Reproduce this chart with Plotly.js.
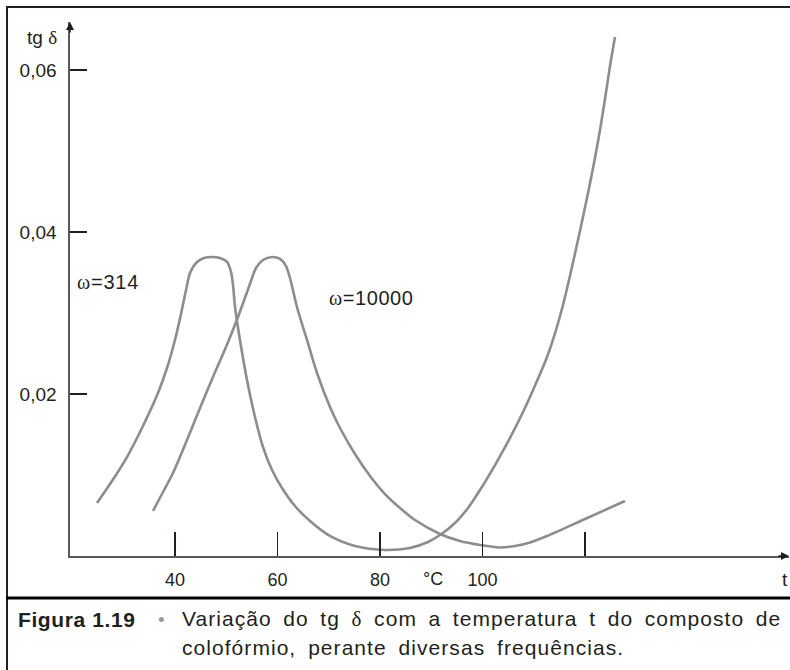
<!DOCTYPE html>
<html>
<head>
<meta charset="utf-8">
<script src="https://cdn.plot.ly/plotly-3.0.1.min.js"></script>
<style>
html,body{margin:0;padding:0;background:#fff;}
#chart{width:790px;height:670px;}
</style>
</head>
<body>
<div id="chart"></div>
<script>
// Temperature (°C) and tg δ values
const tempW314 = [24.78, 27.71, 30.63, 33.56, 36.68, 38.44, 40.00, 41.17, 42.15, 42.93, 44.10, 45.66, 47.22, 48.78, 50.15, 50.93, 51.32, 51.71, 52.68, 54.05, 55.61, 57.17, 58.93, 60.88, 63.41, 66.34, 70.24, 75.12, 80.98, 85.85, 89.37, 91.71, 94.63, 97.17, 99.51, 102.44, 105.37, 108.10, 110.63, 112.59, 114.34, 115.71, 116.88, 118.63, 120.39, 121.76, 122.93, 123.90, 124.88, 125.85];
const tgW314 = [0.00654, 0.00926, 0.01222, 0.01580, 0.02012, 0.02321, 0.02667, 0.02988, 0.03284, 0.03494, 0.03617, 0.03679, 0.03691, 0.03679, 0.03630, 0.03506, 0.03346, 0.03074, 0.02667, 0.02173, 0.01716, 0.01346, 0.01062, 0.00840, 0.00617, 0.00432, 0.00247, 0.00123, 0.00074, 0.00099, 0.00173, 0.00259, 0.00407, 0.00593, 0.00815, 0.01123, 0.01457, 0.01802, 0.02160, 0.02457, 0.02790, 0.03099, 0.03407, 0.03901, 0.04420, 0.04852, 0.05259, 0.05642, 0.06049, 0.06407];

const tempW10000 = [35.71, 37.66, 39.61, 42.34, 44.88, 47.41, 49.95, 52.29, 53.85, 54.83, 55.80, 57.17, 58.93, 60.49, 61.66, 62.44, 63.80, 65.76, 67.71, 70.24, 72.20, 75.12, 78.05, 80.98, 83.90, 86.83, 91.71, 95.61, 99.51, 103.41, 106.34, 109.27, 112.59, 120.00, 127.80];
const tgW10000 = [0.00556, 0.00790, 0.01025, 0.01432, 0.01827, 0.02210, 0.02580, 0.02951, 0.03222, 0.03395, 0.03556, 0.03654, 0.03691, 0.03667, 0.03580, 0.03432, 0.03074, 0.02667, 0.02259, 0.01840, 0.01580, 0.01259, 0.00988, 0.00765, 0.00593, 0.00444, 0.00272, 0.00185, 0.00136, 0.00105, 0.00123, 0.00167, 0.00247, 0.00457, 0.00679];

const xTickVals = [40, 60, 80, 100, 120];
const xTickText = ['40', '60', '80', '100', ''];
const yTickVals = [0.02, 0.04, 0.06];
const yTickText = ['0,02', '0,04', '0,06'];

const W = 790, H = 670;
const M = {l: 70, r: 1, t: 22, b: 114};
const plotW = W - M.l - M.r, plotH = H - M.t - M.b;
const px = x => (x - M.l) / plotW;
const py = y => (H - M.b - y) / plotH;

const curveColor = '#8d8d8f';
const ink = '#231f20';
const sans = 'Liberation Sans, Arial, Helvetica, sans-serif';
const serifSpan = s => '<span style="font-family:Liberation Serif">' + s + '</span>';

const traces = [
  {x: tempW314, y: tgW314, mode: 'lines', name: 'ω=314',
   line: {color: curveColor, width: 2.6, shape: 'spline', smoothing: 0.8}, hoverinfo: 'skip'},
  {x: tempW10000, y: tgW10000, mode: 'lines', name: 'ω=10000',
   line: {color: curveColor, width: 2.6, shape: 'spline', smoothing: 0.8}, hoverinfo: 'skip'}
];

const xRange = [40 + (M.l - 175) / 5.125, 40 + (W - M.r - 175) / 5.125];
const yRange = [0, plotH / 8100];

const annotations = [
  // axis arrowheads
  {xref: 'x', yref: 'y', x: xRange[1], y: 0, ax: -12, ay: 0, showarrow: true, arrowhead: 2, arrowsize: 1, arrowwidth: 1.6, arrowcolor: ink, text: ''},
  {xref: 'x', yref: 'y', x: xRange[0], y: yRange[1], ax: 0, ay: 12, showarrow: true, arrowhead: 2, arrowsize: 1, arrowwidth: 1.6, arrowcolor: ink, text: ''},
  // axis titles
  {xref: 'paper', yref: 'paper', x: px(59), y: py(38), xanchor: 'right', yanchor: 'middle', showarrow: false,
   text: 'tg ' + serifSpan('δ'), font: {size: 19, color: ink}},
  {xref: 'paper', yref: 'paper', x: px(785), y: py(579), xanchor: 'center', yanchor: 'middle', showarrow: false,
   text: 't', font: {size: 19, color: ink}},
  {xref: 'paper', yref: 'paper', x: px(433), y: py(579), xanchor: 'center', yanchor: 'middle', showarrow: false,
   text: '°C', font: {size: 18, color: ink}},
  // curve labels
  {xref: 'paper', yref: 'paper', x: px(77), y: py(282), xanchor: 'left', yanchor: 'middle', showarrow: false,
   text: serifSpan('ω') + '=314', font: {size: 20, color: ink}},
  {xref: 'paper', yref: 'paper', x: px(329), y: py(298), xanchor: 'left', yanchor: 'middle', showarrow: false,
   text: serifSpan('ω') + '=10000', font: {size: 20, color: ink}}
];
const labStart = 5;
const capStart = annotations.length;
annotations.push(
  {xref: 'paper', yref: 'paper', x: px(16), y: py(619), xanchor: 'left', yanchor: 'middle', align: 'left', showarrow: false,
   text: '<b>Figura 1.19</b>', font: {size: 21, color: ink}},
  {xref: 'paper', yref: 'paper', x: px(161), y: py(619), xanchor: 'center', yanchor: 'middle', showarrow: false,
   text: '•', font: {size: 19, color: '#9a9a9a'}},
  {xref: 'paper', yref: 'paper', x: px(180), y: py(619), xanchor: 'left', yanchor: 'middle', align: 'left', showarrow: false,
   text: 'Variação do tg ' + serifSpan('δ') + ' com a temperatura t do composto de', font: {size: 21, color: ink}},
  {xref: 'paper', yref: 'paper', x: px(180), y: py(647), xanchor: 'left', yanchor: 'middle', align: 'left', showarrow: false,
   text: 'colofórmio, perante diversas frequências.', font: {size: 21, color: ink}}
);

const css = document.createElement('style');
css.textContent =
  '.annotation[data-index="' + capStart + '"] text{letter-spacing:0.6px;}' +
  '.annotation[data-index="' + (capStart + 2) + '"] text{letter-spacing:1.05px;word-spacing:4.7px;}' +
  '.annotation[data-index="' + (capStart + 3) + '"] text{letter-spacing:1.05px;word-spacing:5px;}' +
  '.annotation[data-index="' + labStart + '"] text{letter-spacing:0.8px;}' +
  '.annotation[data-index="' + (labStart + 1) + '"] text{letter-spacing:0.6px;}';
document.head.appendChild(css);

const layout = {
  width: W, height: H,
  margin: M,
  showlegend: false,
  paper_bgcolor: '#fff', plot_bgcolor: '#fff',
  font: {family: sans, color: ink},
  xaxis: {
    range: xRange, showgrid: false, zeroline: false,
    showline: true, linecolor: '#58595b', linewidth: 1.6,
    tickmode: 'array', tickvals: xTickVals, ticktext: xTickText,
    ticks: 'inside', ticklen: 24, tickwidth: 1.2, tickcolor: ink,
    tickfont: {size: 18, color: ink, family: sans},
    ticklabelstandoff: 7
  },
  yaxis: {
    range: yRange, showgrid: false, zeroline: false,
    showline: true, linecolor: '#58595b', linewidth: 1.6,
    tickmode: 'array', tickvals: yTickVals, ticktext: yTickText,
    ticks: 'inside', ticklen: 17, tickwidth: 1.2, tickcolor: ink,
    tickfont: {size: 19, color: ink, family: sans},
    ticklabelstandoff: 8
  },
  shapes: [
    {type: 'line', xref: 'paper', yref: 'paper', x0: px(6), x1: px(790), y0: py(7), y1: py(7), line: {color: ink, width: 2}},
    {type: 'line', xref: 'paper', yref: 'paper', x0: px(7), x1: px(7), y0: py(6), y1: py(670), line: {color: ink, width: 2}},
    {type: 'line', xref: 'paper', yref: 'paper', x0: px(6), x1: px(790), y0: py(598), y1: py(598), line: {color: '#000', width: 3}}
  ],
  annotations: annotations
};

Plotly.newPlot('chart', traces, layout, {displayModeBar: false, staticPlot: true});
</script>
</body>
</html>
